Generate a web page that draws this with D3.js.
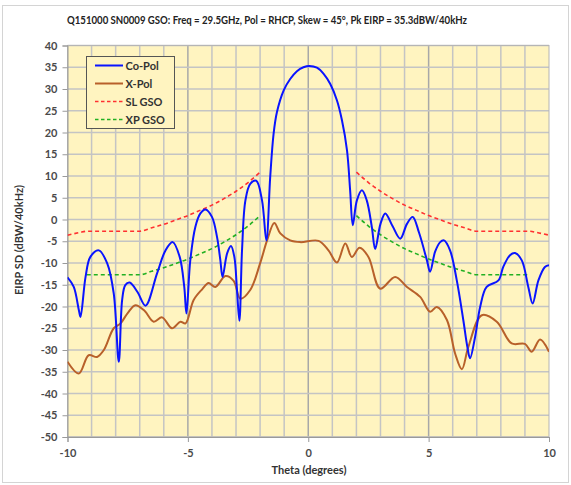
<!DOCTYPE html>
<html><head><meta charset="utf-8">
<script src="https://cdn.jsdelivr.net/npm/d3@7/dist/d3.min.js"></script>
<style>body{margin:0;background:#fff;}svg{display:block;font-family:Lato,"Open Sans",sans-serif;}</style>
</head><body><svg id="c" width="571" height="485"></svg>
<script>
const titleText = "Q151000 SN0009 GSO: Freq =  29.5GHz, Pol = RHCP, Skew = 45°, Pk EIRP = 35.3dBW/40kHz";
const xTicks = [-10, -5, 0, 5, 10];
const yTicks = [40,35,30,25,20,15,10,5,0,-5,-10,-15,-20,-25,-30,-35,-40,-45,-50];
const coPolTheta = [-10,-9.74,-9.53,-9.46,-9.25,-9.05,-8.7,-8.35,-8.08,-7.87,-7.73,-7.6,-7.42,-7.1,-6.76,-6.28,-5.93,-5.63,-5.34,-5.15,-5.06,-4.9,-4.69,-4.48,-4.27,-4.0,-3.79,-3.65,-3.56,-3.37,-3.21,-3.07,-2.96,-2.86,-2.75,-2.61,-2.41,-2.16,-1.92,-1.74,-1.58,-1.44,-1.30,-1.02,-0.75,-0.47,-0.20,0.05,0.36,0.64,0.91,1.19,1.40,1.61,1.74,1.85,2.02,2.23,2.43,2.64,2.78,3.0,3.2,3.5,3.82,4.1,4.34,4.6,4.93,5.06,5.27,5.48,5.64,5.89,6.17,6.44,6.61,6.72,6.93,7.14,7.41,7.9,8.1,8.38,8.59,8.87,9.14,9.32,9.56,9.83,10];
const coPolValue = [-13.3,-15.5,-20.8,-22.4,-13.2,-8.6,-7.1,-10.1,-17,-32.7,-18.5,-15.1,-14.5,-16.6,-19.8,-12.4,-7.1,-5.2,-8.6,-15.5,-21.6,-9.4,-1.7,1.4,2.3,0.6,-4.0,-9.4,-13.2,-7.8,-6.1,-8.6,-16.2,-23.3,-7,4.4,8.2,8.9,4.4,-4.8,9.8,19.7,24.7,29.7,32.3,34.1,35.0,35.3,34.9,33.5,31.2,27.4,22.8,15.9,6.7,-1.3,4.4,6.7,4.4,-1.7,-6.8,-1.0,1.4,-1.5,-4.4,-1.0,0.6,-3.0,-9.4,-12,-7.4,-5.2,-4.8,-7.1,-14,-23.1,-29.3,-31.9,-27,-20.1,-15.5,-14,-10.9,-8.2,-7.7,-9.4,-15.5,-19.3,-14,-10.9,-10.5];
const xPolTheta = [-10,-9.53,-9.12,-8.77,-8.49,-8.08,-7.8,-7.5,-7.18,-6.8,-6.42,-6.07,-5.66,-5.31,-5.1,-4.76,-4.4,-4.14,-3.86,-3.44,-3.1,-2.82,-2.41,-2.0,-1.71,-1.41,-1.16,-0.75,-0.33,0.43,0.84,1.19,1.54,1.81,2.13,2.5,2.99,3.61,4.1,4.65,5.06,5.34,5.76,6.1,6.38,6.65,7.21,7.83,8.45,9.0,9.28,9.63,10];
const xPolValue = [-32.7,-35.4,-31.2,-31.6,-30,-25,-23.9,-21.5,-19.7,-21,-23.5,-22.5,-25,-23.5,-23.9,-18.5,-16,-14.6,-15.5,-13,-14.1,-18.2,-16.2,-10.1,-4.8,-0.8,-3.2,-4.8,-5.2,-4.9,-7.1,-9.9,-5.5,-8.6,-6.5,-8.6,-15.9,-13.2,-15.5,-17.8,-21.2,-20.1,-23.1,-30.8,-34.4,-29.3,-22,-23.5,-28.5,-28.6,-30.4,-27.6,-30.4];
const slLeftTheta = [-10,-9.5,-9.2,-9,-8,-7,-6.5,-6,-5.5,-5,-4.5,-4,-3.5,-3,-2.5,-2];
const slLeftValue = [-3.6,-3.0,-2.7,-2.7,-2.7,-2.7,-1.9,-1.1,-0.1,0.9,2.1,3.3,4.8,6.5,8.5,10.9];
const slRightTheta = [2,2.5,3,3.5,4,4.5,5,5.5,6,6.5,7,8,9,9.2,9.5,10];
const slRightValue = [10.9,8.5,6.5,4.8,3.3,2.1,0.9,-0.1,-1.1,-1.9,-2.7,-2.7,-2.7,-2.7,-3.0,-3.6];
const xpLeftTheta = [-9.2,-9,-8,-7,-6.5,-6,-5.5,-5,-4.5,-4,-3.5,-3,-2.5,-2];
const xpLeftValue = [-12.7,-12.7,-12.7,-12.7,-11.9,-11.1,-10.1,-9.1,-7.9,-6.7,-5.2,-3.5,-1.5,0.9];
const xpRightTheta = [2,2.5,3,3.5,4,4.5,5,5.5,6,6.5,7,8,9,9.2];
const xpRightValue = [0.9,-1.5,-3.5,-5.2,-6.7,-7.9,-9.1,-10.1,-11.1,-11.9,-12.7,-12.7,-12.7,-12.7];
const seriesNames = ["Co-Pol","X-Pol","SL GSO","XP GSO"];
const seriesColors = ["#0a14ff","#b8602a","#ff3030","#22b022"];

const svg = d3.select("#c");
svg.append("rect").attr("x",2.5).attr("y",5.5).attr("width",566).attr("height",477)
  .attr("fill","#fff").attr("stroke","#d4d4d4").attr("stroke-width",1);

const L=67.5, R=549, T=45.5, B=437;
const x = d3.scaleLinear().domain([-10,10]).range([L,R]);
const y = d3.scaleLinear().domain([-50,40]).range([B,T]);

svg.append("rect").attr("x",L).attr("y",T).attr("width",R-L).attr("height",B-T).attr("fill","#fff4c0");

const g = svg.append("g");
g.selectAll("line.vg").data(d3.range(-9,10,1)).enter().append("line")
  .attr("x1",d=>x(d)).attr("x2",d=>x(d)).attr("y1",T).attr("y2",B)
  .attr("stroke",d=>d%5===0?"#a8a8a8":"#c4c4c4").attr("stroke-width",1.5);
g.selectAll("line.hg").data(yTicks).enter().append("line")
  .attr("x1",L).attr("x2",R).attr("y1",d=>y(d)).attr("y2",d=>y(d))
  .attr("stroke","#c4c4c4").attr("stroke-width",1.5);
svg.append("rect").attr("x",L).attr("y",T).attr("width",R-L).attr("height",B-T)
  .attr("fill","none").attr("stroke","#b5b5b5").attr("stroke-width",1);

const fmt = d => String(d);
const yAxis = svg.append("g").attr("transform",`translate(${L},0)`)
  .call(d3.axisLeft(y).tickValues(yTicks).tickFormat(fmt).tickSize(5).tickPadding(5));
const xAxis = svg.append("g").attr("transform",`translate(0,${B})`)
  .call(d3.axisBottom(x).tickValues(xTicks).tickFormat(fmt).tickSize(5).tickPadding(7));
[yAxis,xAxis].forEach(a=>{
  a.select(".domain").attr("stroke","#9a9a9a");
  a.selectAll(".tick line").attr("stroke","#9a9a9a");
  a.selectAll("text").attr("fill","#4a4a4a").style("font-size","11px").style("font-weight","bold").style("font-family","Lato, sans-serif");
});

const line = d3.line().x(d=>x(d[0])).y(d=>y(d[1])).curve(d3.curveCatmullRom.alpha(0.5));
const lineLin = d3.line().x(d=>x(d[0])).y(d=>y(d[1])).curve(d3.curveMonotoneX);
const zip=(a,b)=>a.map((v,i)=>[v,b[i]]);
svg.append("clipPath").attr("id","pc").append("rect").attr("x",L).attr("y",T).attr("width",R-L).attr("height",B-T);
const pg = svg.append("g").attr("clip-path","url(#pc)");

[[slLeftTheta,slLeftValue],[slRightTheta,slRightValue]].forEach(s=>{
  pg.append("path").attr("d",lineLin(zip(s[0],s[1]))).attr("fill","none")
    .attr("stroke",seriesColors[2]).attr("stroke-width",1.6).attr("stroke-dasharray","4,3");
});
[[xpLeftTheta,xpLeftValue],[xpRightTheta,xpRightValue]].forEach(s=>{
  pg.append("path").attr("d",lineLin(zip(s[0],s[1]))).attr("fill","none")
    .attr("stroke",seriesColors[3]).attr("stroke-width",1.6).attr("stroke-dasharray","4,3");
});
pg.append("path").attr("d",line(zip(xPolTheta,xPolValue))).attr("fill","none")
  .attr("stroke",seriesColors[1]).attr("stroke-width",2).attr("stroke-linejoin","round");
pg.append("path").attr("d",line(zip(coPolTheta,coPolValue))).attr("fill","none")
  .attr("stroke",seriesColors[0]).attr("stroke-width",2).attr("stroke-linejoin","round");

const lg = svg.append("g");
lg.append("rect").attr("x",86.5).attr("y",56.5).attr("width",88).attr("height",72)
  .attr("fill","#fff4c0").attr("stroke","#555").attr("stroke-width",1);
seriesNames.forEach((n,i)=>{
  const yy = 65.5 + i*18;
  lg.append("line").attr("x1",95).attr("x2",123).attr("y1",yy).attr("y2",yy)
    .attr("stroke",seriesColors[i]).attr("stroke-width",i<2?2:1.6)
    .attr("stroke-dasharray",i<2?null:"3.5,2.5");
  lg.append("text").attr("x",125.5).attr("y",yy+4).text(n)
    .attr("fill","#333").style("font-size","11px").style("font-weight","bold");
});

svg.append("text").attr("x",267).attr("y",24).attr("text-anchor","middle").text(titleText)
  .attr("fill","#222").style("font-size","11px").style("font-weight","bold")
  .attr("textLength",400).attr("lengthAdjust","spacingAndGlyphs");
svg.append("text").attr("x",309).attr("y",474).attr("text-anchor","middle").text("Theta (degrees)")
  .attr("fill","#333").style("font-size","11px").style("font-weight","bold");
svg.append("text").attr("transform","translate(23,240) rotate(-90)").attr("text-anchor","middle")
  .text("EIRP SD (dBW/40kHz)").attr("fill","#333").style("font-size","11px").style("font-weight","bold");
</script></body></html>
